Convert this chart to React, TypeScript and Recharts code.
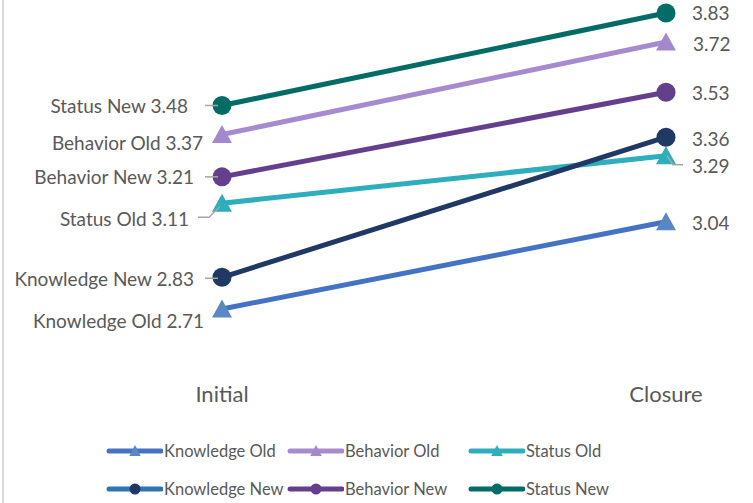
import React from "react";
import { LineChart, Line, XAxis, YAxis, LabelList } from "recharts";

const categories = ["Initial", "Closure"];
const knowledgeOld = [2.71, 3.04];
const behaviorOld = [3.37, 3.72];
const statusOld = [3.11, 3.29];
const knowledgeNew = [2.83, 3.36];
const behaviorNew = [3.21, 3.53];
const statusNew = [3.48, 3.83];

const data = categories.map((name, i) => ({
  name,
  knowledgeOld: knowledgeOld[i],
  behaviorOld: behaviorOld[i],
  statusOld: statusOld[i],
  knowledgeNew: knowledgeNew[i],
  behaviorNew: behaviorNew[i],
  statusNew: statusNew[i],
}));

type Pt = [number, number];
interface LabelPos {
  dx: number;
  dy: number;
  leader?: Pt[];
}
interface SeriesCfg {
  key: string;
  name: string;
  color: string;
  marker: string;
  legendLine: string;
  shape: "triangle" | "circle";
  left: LabelPos;
  right: LabelPos;
}

const FONT = "Lato, 'Open Sans', sans-serif";
const TEXT = "#595959";
const LEADER = "#a6a6a6";

const series: SeriesCfg[] = [
  {
    key: "knowledgeOld",
    name: "Knowledge Old",
    color: "#4472C4",
    marker: "#5B87C4",
    legendLine: "#4472C4",
    shape: "triangle",
    left: { dx: -18, dy: 12 },
    right: { dx: 26, dy: 1 },
  },
  {
    key: "behaviorOld",
    name: "Behavior Old",
    color: "#A68BCF",
    marker: "#A488CC",
    legendLine: "#A68BCF",
    shape: "triangle",
    left: { dx: -19, dy: 8 },
    right: { dx: 27, dy: 1 },
  },
  {
    key: "statusOld",
    name: "Status Old",
    color: "#2EADBD",
    marker: "#2EADBD",
    legendLine: "#2EADBD",
    shape: "triangle",
    left: { dx: -33, dy: 15, leader: [[-24, 14], [-13, 14], [-2, 3]] },
    right: { dx: 26, dy: 10, leader: [[1, 0], [7, 9], [17, 9]] },
  },
  {
    key: "knowledgeNew",
    name: "Knowledge New",
    color: "#203864",
    marker: "#203864",
    legendLine: "#2E75B6",
    shape: "circle",
    left: { dx: -28, dy: 1, leader: [[-17, 1], [-4, 1]] },
    right: { dx: 26, dy: 1 },
  },
  {
    key: "behaviorNew",
    name: "Behavior New",
    color: "#633F8E",
    marker: "#633F8E",
    legendLine: "#633F8E",
    shape: "circle",
    left: { dx: -28, dy: 0, leader: [[-17, 0], [-4, 0]] },
    right: { dx: 26, dy: 0 },
  },
  {
    key: "statusNew",
    name: "Status New",
    color: "#046C67",
    marker: "#046C67",
    legendLine: "#046C67",
    shape: "circle",
    left: { dx: -34, dy: 0, leader: [[-17, 0], [-4, 0]] },
    right: { dx: 26, dy: 0 },
  },
];

const legendRows = [
  ["knowledgeOld", "behaviorOld", "statusOld"],
  ["knowledgeNew", "behaviorNew", "statusNew"],
];

function Marker({ cx, cy, shape, fill, size }: { cx: number; cy: number; shape: string; fill: string; size: number }) {
  if (shape === "circle") return <circle cx={cx} cy={cy} r={size / 2} fill={fill} />;
  const h = size * 0.9;
  const w = size * 1.05;
  return (
    <polygon
      points={`${cx},${cy - h / 2 - 1} ${cx - w / 2},${cy + h / 2} ${cx + w / 2},${cy + h / 2}`}
      fill={fill}
    />
  );
}

const makeDot = (s: SeriesCfg) => (props: any) => (
  <Marker key={`${s.key}-${props.index}`} cx={props.cx} cy={props.cy} shape={s.shape} fill={s.marker} size={19} />
);

const makeLabel = (s: SeriesCfg) => (props: any) => {
  const { x, y, value, index } = props;
  const pos = index === 0 ? s.left : s.right;
  const text = index === 0 ? `${s.name} ${Number(value).toFixed(2)}` : Number(value).toFixed(2);
  return (
    <g>
      {pos.leader && (
        <polyline
          points={pos.leader.map(([a, b]) => `${x + a},${y + b}`).join(" ")}
          fill="none"
          stroke={LEADER}
          strokeWidth={1.5}
        />
      )}
      <text
        x={x + pos.dx}
        y={y + pos.dy}
        textAnchor={index === 0 ? "end" : "start"}
        dominantBaseline="central"
        fontFamily={FONT}
        fontSize={19}
        fill={TEXT}
      >
        {text}
      </text>
    </g>
  );
};

const renderTick = (props: any) => (
  <text x={props.x} y={props.y + 29} textAnchor="middle" fontFamily={FONT} fontSize={22} fill={TEXT}>
    {props.payload.value}
  </text>
);

export default function App() {
  return (
    <div style={{ position: "absolute", left: 0, top: 0, width: 753, height: 503, background: "#fff" }}>
      <div style={{ position: "absolute", left: 2, top: 0, width: 2, height: 503, background: "#d9d9d9" }} />
      <LineChart
        width={753}
        height={503}
        data={data}
        margin={{ top: 7.7, right: 87, left: 222, bottom: 98.5 }}
      >
        <XAxis dataKey="name" axisLine={false} tickLine={false} height={40} tick={renderTick} interval={0} />
        <YAxis hide domain={[2.5, 3.85]} />
        {series.map((s) => (
          <Line
            key={s.key}
            dataKey={s.key}
            name={s.name}
            stroke={s.color}
            strokeWidth={5}
            dot={makeDot(s)}
            activeDot={false}
            isAnimationActive={false}
          >
            <LabelList dataKey={s.key} content={makeLabel(s)} />
          </Line>
        ))}
      </LineChart>
      {legendRows.map((row, r) =>
        row.map((k, c) => {
          const s = series.find((x) => x.key === k)!;
          return (
            <div
              key={k}
              style={{
                position: "absolute",
                left: 105 + c * 181,
                top: 438 + r * 38,
                height: 26,
                display: "flex",
                alignItems: "center",
                fontFamily: FONT,
                fontSize: 16.5,
                color: TEXT,
                whiteSpace: "nowrap",
              }}
            >
              <svg width={58} height={26} style={{ marginRight: 1 }}>
                <line x1={4} y1={13} x2={56} y2={13} stroke={s.legendLine} strokeWidth={5} strokeLinecap="round" />
                <Marker cx={30} cy={13} shape={s.shape} fill={s.marker} size={11} />
              </svg>
              {s.name}
            </div>
          );
        })
      )}
    </div>
  );
}
